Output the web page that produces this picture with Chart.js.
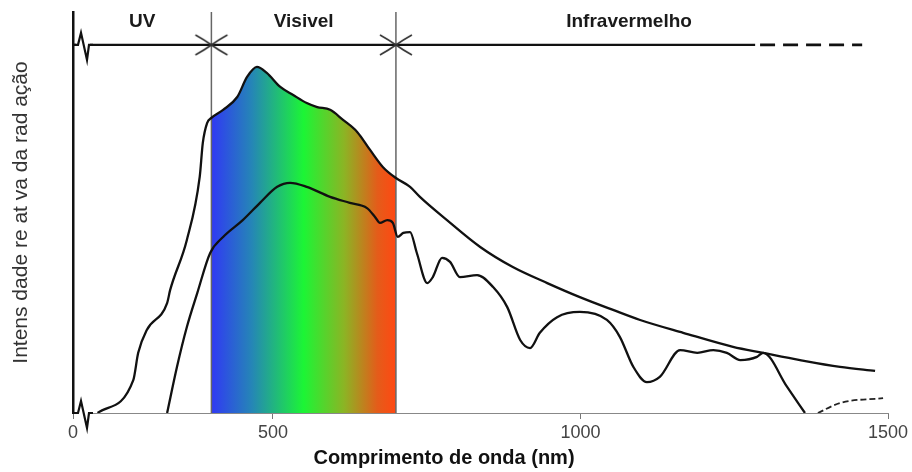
<!DOCTYPE html>
<html lang="pt">
<head>
<meta charset="UTF-8">
<title>Espectro da radiação solar</title>
<script src="https://cdn.jsdelivr.net/npm/chart.js"></script>
<style>
    body {
        margin: 0;
        background: #ffffff;
    }
    .chart-box {
        width: 912px;
        height: 472px;
    }
</style>
</head>
<body>

<div class="chart-box">
    <canvas id="spectrum"></canvas>
</div>

<script>
// eixo x em nm (a origem do desenho tem quebra de eixo, rotulada "0")
const axisMin = 175;
const axisMax = 1500;
const xTicks = [175, 500, 1000, 1500];
const xTickLabels = ['0', '500', '1000', '1500'];

// curva de cima (topo da atmosfera)
const topNm  = [215, 273, 281, 295, 328, 333, 360, 381, 386, 393, 400, 419, 442, 458, 474, 490, 512, 533, 555, 572, 593, 614, 637, 658, 679, 700, 723, 739, 783, 837, 890, 946, 999, 1053, 1097, 1167, 1248, 1297, 1357, 1422, 1479];
const topVal = [0, 8.2, 15.0, 20.7, 27.4, 30.7, 43.1, 58.9, 67.3, 72.3, 73.6, 75.6, 78.8, 83.8, 86.3, 84.8, 81.3, 79.3, 77.3, 76.3, 75.6, 73.1, 70.1, 65.6, 61.3, 58.6, 56.4, 53.9, 48.1, 41.4, 36.4, 32.4, 28.9, 25.7, 23.2, 20.0, 16.5, 15.0, 13.2, 11.5, 10.5];

// curva de baixo (nivel do mar)
const seaNm  = [328, 344, 360, 377, 398, 419, 451, 479, 507, 528, 555, 593, 625, 653, 666, 674, 686, 695, 703, 712, 723, 734, 751, 760, 775, 788, 804, 832, 858, 881, 902, 918, 934, 962, 999, 1043, 1064, 1086, 1108, 1129, 1162, 1190, 1216, 1238, 1260, 1287, 1297, 1336, 1365];
const seaVal = [0, 11.5, 21.4, 29.9, 39.9, 43.9, 48.1, 52.4, 56.4, 57.4, 56.4, 53.9, 52.4, 51.1, 48.9, 47.4, 48.1, 47.4, 43.9, 44.9, 45.1, 39.9, 32.4, 33.9, 38.7, 37.7, 33.9, 34.4, 31.4, 26.4, 18.2, 16.2, 20.0, 23.9, 25.2, 23.2, 19.0, 11.5, 7.7, 9.0, 15.7, 15.0, 15.7, 15.0, 13.2, 14.0, 15.0, 6.5, 0];

// trecho tracejado no fim
const tailNm  = [1386, 1422, 1492];
const tailVal = [0, 2.5, 3.7];

// faixas
const bandEdges = [400, 700];
const regionNames = ['UV', 'Visivel', 'Infravermelho'];
const bandLevel = 91.8;
const bandSolidEnd = 1284;
const bandDashEnd = 1458;
const labelLevel = 97.6;
const edgeTop = 100;

const fontFamily = '"Liberation Sans", Arial, sans-serif';

function pts(xs, ys) {
    return xs.map((x, i) => ({ x: x, y: ys[i] }));
}

const topPts = pts(topNm, topVal);
const visiblePts = topPts.filter(p => p.x >= bandEdges[0] && p.x <= bandEdges[1]);

// marca de seta dupla (><) usada nas divisas
const arrowMark = document.createElement('canvas');
arrowMark.width = 38;
arrowMark.height = 26;
(function () {
    const c = arrowMark.getContext('2d');
    c.strokeStyle = '#333';
    c.lineWidth = 1.6;
    c.beginPath();
    c.moveTo(3, 3); c.quadraticCurveTo(12, 8, 19, 13); c.quadraticCurveTo(12, 18, 3, 23);
    c.moveTo(35, 3); c.quadraticCurveTo(26, 8, 19, 13); c.quadraticCurveTo(26, 18, 35, 23);
    c.stroke();
})();

function spectrumFill(context) {
    const chart = context.chart;
    if (!chart.chartArea) return 'transparent';
    const xs = chart.scales.x;
    const x0 = xs.getPixelForValue(bandEdges[0]);
    const x1 = xs.getPixelForValue(bandEdges[1]);
    const g = chart.ctx.createLinearGradient(x0, 0, x1, 0);
    g.addColorStop(0, '#3039f4');
    g.addColorStop(0.22, '#2586b6');
    g.addColorStop(0.5, '#1cf535');
    g.addColorStop(0.72, '#8cb424');
    g.addColorStop(0.9, '#e45c1a');
    g.addColorStop(1, '#ff4812');
    return g;
}

// quebras de eixo, rotulos das faixas
const decorations = {
    id: 'decorations',
    afterDatasetsDraw(chart) {
        const ctx = chart.ctx;
        const xs = chart.scales.x;
        const ys = chart.scales.y;
        const left = chart.chartArea.left;

        function squiggle(baseY) {
            ctx.save();
            ctx.fillStyle = '#fff';
            ctx.fillRect(left + 3, baseY - 2, 14, 4);
            ctx.strokeStyle = '#111';
            ctx.lineWidth = 2.2;
            ctx.beginPath();
            ctx.moveTo(left, baseY);
            ctx.lineTo(left + 5, baseY);
            ctx.lineTo(left + 8, baseY - 12);
            ctx.lineTo(left + 14, baseY + 15);
            ctx.lineTo(left + 16, baseY);
            ctx.lineTo(left + 20, baseY);
            ctx.stroke();
            ctx.restore();
        }
        squiggle(ys.getPixelForValue(bandLevel));
        squiggle(ys.getPixelForValue(0));

        const edges = [axisMin, bandEdges[0], bandEdges[1], bandDashEnd];
        ctx.save();
        ctx.font = 'bold 19px ' + fontFamily;
        ctx.fillStyle = '#1a1a1a';
        ctx.textAlign = 'center';
        ctx.textBaseline = 'middle';
        regionNames.forEach((name, i) => {
            const mid = (edges[i] + edges[i + 1]) / 2;
            ctx.fillText(name, xs.getPixelForValue(mid), ys.getPixelForValue(labelLevel));
        });
        ctx.restore();
    }
};

const line = { showLine: true, pointRadius: 0, fill: false, cubicInterpolationMode: 'monotone' };

new Chart(document.getElementById('spectrum'), {
    type: 'scatter',
    data: {
        datasets: [
            Object.assign({ label: 'Topo', data: topPts, borderColor: '#111', borderWidth: 2.3 }, line),
            Object.assign({ label: 'Nivel do mar', data: pts(seaNm, seaVal), borderColor: '#111', borderWidth: 2.3 }, line),
            Object.assign({ label: 'Final', data: pts(tailNm, tailVal), borderColor: '#222', borderWidth: 1.8, borderDash: [6, 3] }, line),
            { label: 'Divisas', data: bandEdges.map(x => ({ x: x, y: bandLevel })), pointStyle: arrowMark, pointRadius: 10, showLine: false },
            Object.assign({ label: 'Faixa', data: [{ x: axisMin, y: bandLevel }, { x: bandSolidEnd, y: bandLevel }], borderColor: '#111', borderWidth: 2.2 }, line),
            Object.assign({ label: 'Faixa tracejada', data: [{ x: bandSolidEnd + 8, y: bandLevel }, { x: bandDashEnd, y: bandLevel }], borderColor: '#111', borderWidth: 2.6, borderDash: [15, 8] }, line),
            Object.assign({ label: '400', data: [{ x: bandEdges[0], y: 0 }, { x: bandEdges[0], y: edgeTop }], borderColor: '#666', borderWidth: 1.5 }, line),
            Object.assign({ label: '700', data: [{ x: bandEdges[1], y: 0 }, { x: bandEdges[1], y: edgeTop }], borderColor: '#666', borderWidth: 1.5 }, line),
            Object.assign({}, line, { label: 'Visivel', data: visiblePts, borderWidth: 0, borderColor: 'transparent', backgroundColor: spectrumFill, fill: 'origin' })
        ]
    },
    options: {
        responsive: true,
        maintainAspectRatio: false,
        animation: false,
        layout: { padding: { top: 12, right: 24, left: 0, bottom: 0 } },
        plugins: {
            legend: { display: false },
            tooltip: { enabled: false },
            title: {
                display: true,
                position: 'bottom',
                text: 'Comprimento de onda (nm)',
                color: '#111',
                font: { family: fontFamily, size: 20, weight: 'bold' },
                padding: { top: 3, bottom: 2 }
            }
        },
        scales: {
            x: {
                type: 'linear',
                min: axisMin,
                max: axisMax,
                afterBuildTicks(scale) {
                    scale.ticks = xTicks.map(v => ({ value: v }));
                },
                afterFit(scale) {
                    scale.height = 30;
                },
                ticks: {
                    color: '#444',
                    padding: 3,
                    maxRotation: 0,
                    font: { family: fontFamily, size: 18 },
                    callback(value) {
                        const i = xTicks.indexOf(value);
                        return i >= 0 ? xTickLabels[i] : '';
                    }
                },
                grid: { drawOnChartArea: false, drawTicks: true, tickLength: 6, color: '#777' },
                border: { color: '#888', width: 1 }
            },
            y: {
                min: 0,
                max: 100,
                afterFit(scale) {
                    scale.width = 73;
                },
                ticks: { display: false },
                grid: { display: false },
                border: { color: '#111', width: 2.5 },
                title: {
                    display: true,
                    text: 'Intens dade re at va da rad ação',
                    color: '#333',
                    font: { family: fontFamily, size: 21 },
                    padding: { top: 9, bottom: 0 }
                }
            }
        }
    },
    plugins: [decorations]
});
</script>

</body>
</html>
